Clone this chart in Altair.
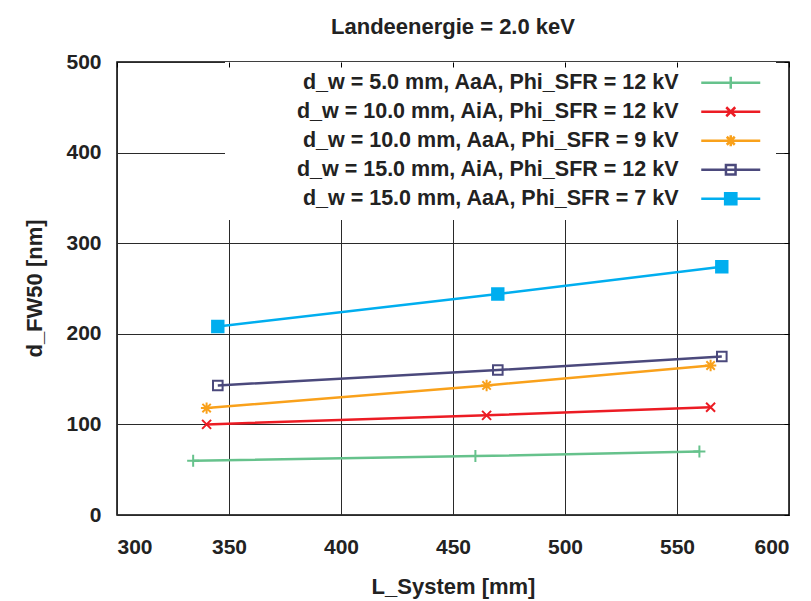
import altair as alt
import pandas as pd

FONT = "Liberation Sans, Arial, Helvetica, sans-serif"

labels = [
    "d_w = 5.0 mm, AaA, Phi_SFR = 12 kV",
    "d_w = 10.0 mm, AiA, Phi_SFR = 12 kV",
    "d_w = 10.0 mm, AaA, Phi_SFR = 9 kV",
    "d_w = 15.0 mm, AiA, Phi_SFR = 12 kV",
    "d_w = 15.0 mm, AaA, Phi_SFR = 7 kV",
]
colors = ["#66c28c", "#ec1c24", "#f9a11b", "#4b497c", "#00aeef"]

x_vals = [
    [334, 460, 560],
    [340, 465, 565],
    [340, 465, 565],
    [345, 470, 570],
    [345, 470, 570],
]
y_vals = [
    [60, 65, 70],
    [100, 110, 119],
    [118, 143, 165],
    [143, 160, 175],
    [208, 244, 274],
]

x_ticks = [300, 350, 400, 450, 500, 550, 600]
y_ticks = [0, 100, 200, 300, 400, 500]

point_paths = [
    "M-1,0H1M0,-1V1",
    "M-0.75,-0.75L0.75,0.75M-0.75,0.75L0.75,-0.75",
    "M-0.95,0H0.95M0,-0.95V0.95M-0.7,-0.7L0.7,0.7M-0.7,0.7L0.7,-0.7",
    "M-0.8,-0.8H0.8V0.8H-0.8Z",
    "M-0.95,-0.95H0.95V0.95H-0.95Z",
]


def legend_path(marker):
    # legend sample: a 59 px line with the marker in its middle, drawn right of the label
    a = 455.5
    c = a + 29.5
    line = f"M{a},0H{a + 59}"
    if marker == "plus":
        return line + f"M{c},-6V6"
    if marker == "cross":
        return line + f"M{c - 4.5},-4.5L{c + 4.5},4.5M{c - 4.5},4.5L{c + 4.5},-4.5"
    if marker == "star":
        return line + (f"M{c},-5.5V5.5M{c - 4},-4L{c + 4},4M{c - 4},4L{c + 4},-4"
                       f"M{c - 5.5},0H{c + 5.5}")
    if marker == "osq":
        return line + f"M{c - 4.8},-4.8H{c + 4.8}V4.8H{c - 4.8}Z"
    return line + f"M{c - 5.6},-5.6H{c + 5.6}V5.6H{c - 5.6}Z"


legend_paths = [legend_path(m) for m in ["plus", "cross", "star", "osq", "fsq"]]
fills = ["transparent", "transparent", "transparent", "transparent", "#00aeef"]

rows = []
for lab, xs, ys in zip(labels, x_vals, y_vals):
    for xv, yv in zip(xs, ys):
        rows.append({"series": lab, "x": xv, "y": yv})
df = pd.DataFrame(rows)

xscale = alt.Scale(domain=[300, 600], nice=False, zero=False)
yscale = alt.Scale(domain=[0, 500], nice=False)

xenc = alt.X(
    "x:Q", scale=xscale,
    axis=alt.Axis(
        values=x_ticks, title="L_System [mm]", titleY=78, titleBaseline="alphabetic",
        labelPadding=21,
    ),
)
yenc = alt.Y(
    "y:Q", scale=yscale,
    axis=alt.Axis(
        values=y_ticks, title="d_FW50 [nm]", titleX=-76, titleY=226,
        titleBaseline="alphabetic", labelPadding=16,
    ),
)
xenc_plain = alt.X("x:Q", scale=xscale, axis=None)
yenc_plain = alt.Y("y:Q", scale=yscale, axis=None)
# gnuplot-style mirrored inner ticks on the top and right edges
xenc_top = alt.X(
    "x:Q", scale=xscale,
    axis=alt.Axis(
        orient="top", values=x_ticks, labels=False, ticks=True, tickSize=5,
        tickColor="#000", tickWidth=1, offset=-5, domain=False, grid=False,
        title=None, zindex=3,
    ),
)
yenc_right = alt.Y(
    "y:Q", scale=yscale,
    axis=alt.Axis(
        orient="right", values=y_ticks, labels=False, ticks=True, tickSize=5,
        tickColor="#000", tickWidth=1, offset=-5, domain=False, grid=False,
        title=None, zindex=3,
    ),
)

lines = alt.Chart(df).mark_line(strokeWidth=2.5).encode(
    x=xenc,
    y=yenc,
    color=alt.Color("series:N", scale=alt.Scale(domain=labels, range=colors), legend=None),
    order="x:Q",
)

points = alt.Chart(df).mark_point(filled=False, strokeWidth=2, opacity=1, size=144).encode(
    x=xenc_plain,
    y=yenc_plain,
    color=alt.Color("series:N", scale=alt.Scale(domain=labels, range=colors), legend=None),
    shape=alt.Shape("series:N", scale=alt.Scale(domain=labels, range=point_paths), legend=None),
    fill=alt.Fill("series:N", scale=alt.Scale(domain=labels, range=fills), legend=None),
)

leg = alt.Legend(
    orient="none", legendX=108, legendY=0, title=None, direction="vertical",
    labelAlign="right", labelOffset=422, labelLimit=1000,
    labelFont=FONT, labelFontSize=21.5, labelFontWeight="bold", labelColor="#222",
    symbolSize=4, symbolStrokeWidth=2.5, symbolOpacity=1,
    rowPadding=6.0, fillColor="white", padding=10, zindex=0,
)

legend_layer = alt.Chart(df).transform_filter("false").mark_point(
    filled=False, strokeWidth=2.5, opacity=1
).encode(
    x=xenc_top,
    y=yenc_right,
    stroke=alt.Stroke("series:N", scale=alt.Scale(domain=labels, range=colors), legend=leg),
    fill=alt.Fill("series:N", scale=alt.Scale(domain=labels, range=fills), legend=leg),
    shape=alt.Shape("series:N", scale=alt.Scale(domain=labels, range=legend_paths), legend=leg),
)

chart = alt.layer(lines, points, legend_layer).resolve_scale(
    color="independent", shape="independent", fill="independent", stroke="independent"
).resolve_axis(
    x="independent", y="independent"
).properties(
    width=672,
    height=453,
    autosize=alt.AutoSizeParams(type="none"),
    padding={"left": 117, "top": 62, "right": 22, "bottom": 86},
    title=alt.TitleParams(
        "Landeenergie = 2.0 keV", font=FONT, fontSize=22, fontWeight="bold",
        color="#222", anchor="middle", offset=1, dy=6, baseline="alphabetic",
    ),
).configure_view(
    stroke="#000", strokeWidth=1.5
).configure_axis(
    grid=True, gridColor="#2a2a2a", gridWidth=1, gridOpacity=1,
    ticks=False, domain=False,
    labelFont=FONT, labelFontSize=21, labelFontWeight="bold", labelColor="#222",
    titleFont=FONT, titleFontSize=22, titleFontWeight="bold", titleColor="#222",
)

chart.save("out.html", embed_options={"renderer": "svg", "actions": False})
